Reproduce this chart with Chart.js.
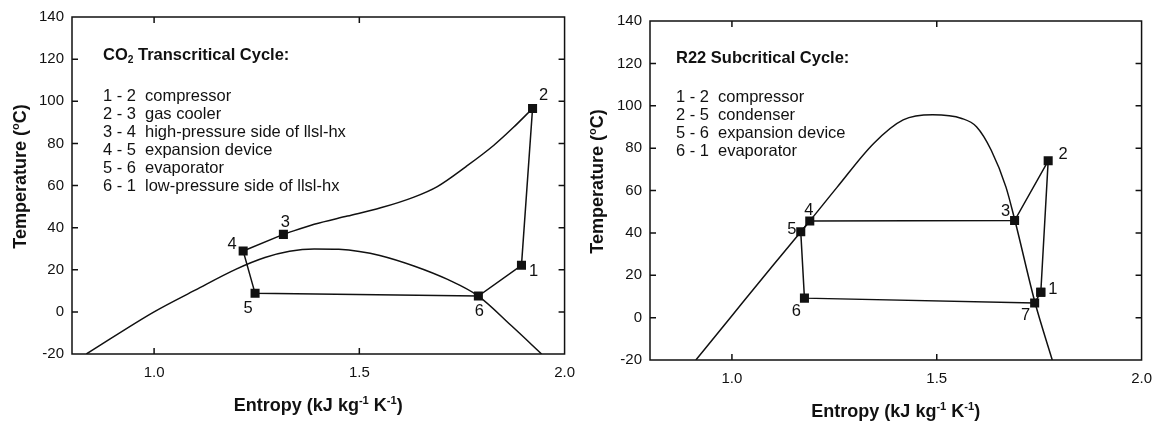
<!DOCTYPE html>
<html><head><meta charset="utf-8">
<script src="https://cdn.jsdelivr.net/npm/chart.js@4.4.0/dist/chart.umd.min.js"></script>
<style>
html,body{margin:0;padding:0;background:#fff;width:1154px;height:423px;overflow:hidden;}
#wrap{position:relative;width:1154px;height:423px;overflow:hidden;}
canvas{position:absolute;top:0;}
#c1{left:0;} #c2{left:577px;}
</style></head><body>
<div id="wrap"><canvas id="c1" width="585" height="423"></canvas><canvas id="c2" width="585" height="423"></canvas></div>
<script>
// ---- tick values ----
const tempTicks = [-20, 0, 20, 40, 60, 80, 100, 120, 140];
const entropyTicks = [1.0, 1.5, 2.0];

// ---- CO2 transcritical cycle ----
const co2DomeS = [0.835, 1.0, 1.1, 1.2, 1.27, 1.33, 1.39, 1.45, 1.5, 1.55, 1.633, 1.715, 1.79, 1.87, 1.944];
const co2DomeT = [-20, 0, 10.3, 20.3, 25.8, 28.8, 29.9, 29.7, 28.7, 26.8, 21.8, 15.4, 7.5, -6.5, -20];
const co2IsobarS = [1.315, 1.39, 1.471, 1.552, 1.633, 1.69, 1.76, 1.827, 1.875, 1.922];
const co2IsobarT = [36.8, 41.6, 45.5, 49.4, 54.5, 59.5, 69, 79, 87.5, 96.6];
const co2CycleLabels = ['3', '4', '5', '6', '1', '2'];
const co2CycleS = [1.315, 1.217, 1.246, 1.79, 1.895, 1.922];
const co2CycleT = [36.8, 28.9, 8.8, 7.5, 22.1, 96.6];
const co2LegendTitle = [{t: 'CO'}, {t: '2', sub: true}, {t: ' Transcritical Cycle:'}];
const co2LegendNums = ['1 - 2', '2 - 3', '3 - 4', '4 - 5', '5 - 6', '6 - 1'];
const co2LegendText = ['compressor', 'gas cooler', 'high-pressure side of llsl-hx', 'expansion device', 'evaporator', 'low-pressure side of llsl-hx'];

// ---- R22 subcritical cycle ----
const r22DomeS = [0.912, 1.0, 1.1, 1.19, 1.257, 1.346, 1.418, 1.49, 1.561, 1.597, 1.633, 1.669, 1.691, 1.74, 1.782];
const r22DomeT = [-20, 0.9, 24.6, 45.6, 61.6, 82.2, 93.3, 95.7, 94, 90.1, 79, 61.6, 45.7, 7, -20];
const r22CycleLabels = ['1', '2', '3', '4', '5', '6', '7', '1'];
const r22CycleS = [1.754, 1.772, 1.690, 1.190, 1.168, 1.177, 1.739, 1.754];
const r22CycleT = [12, 74, 45.8, 45.6, 40.5, 9.2, 6.9, 12];
const r22LegendTitle = [{t: 'R22 Subcritical Cycle:'}];
const r22LegendNums = ['1 - 2', '2 - 5', '5 - 6', '6 - 1'];
const r22LegendText = ['compressor', 'condenser', 'expansion device', 'evaporator'];

const FONT = "'Liberation Sans', Arial, Helvetica, sans-serif";
const INK = '#111';

function pts(xs, ys) { return xs.map((x, i) => ({x, y: ys[i]})); }

function drawRich(ctx, segs, x, y, size, weight, align) {
  let total = 0;
  const parts = segs.map(s => {
    const fs = (s.sup || s.sub) ? size * 0.62 : size;
    ctx.font = `${weight} ${fs}px ${FONT}`;
    const w = ctx.measureText(s.t).width;
    total += w;
    return {s, fs, w};
  });
  let cx = align === 'center' ? x - total / 2 : (align === 'right' ? x - total : x);
  ctx.textAlign = 'left';
  ctx.textBaseline = 'alphabetic';
  for (const p of parts) {
    ctx.font = `${weight} ${p.fs}px ${FONT}`;
    let dy = 0;
    if (p.s.sup) dy = -size * 0.4;
    if (p.s.sub) dy = size * 0.22;
    ctx.fillText(p.s.t, cx, y + dy);
    cx += p.w;
  }
}

const xTitle = [{t: 'Entropy (kJ kg'}, {t: '-1', sup: true}, {t: ' K'}, {t: '-1', sup: true}, {t: ')'}];
const yTitle = [{t: 'Temperature ('}, {t: 'o', sup: true}, {t: 'C)'}];

const framePlugin = {
  id: 'frame',
  afterDraw(chart, args, o) {
    const {ctx, chartArea: a} = chart;
    const xs = chart.scales.x, ys = chart.scales.y;
    ctx.save();
    ctx.strokeStyle = INK;
    ctx.fillStyle = INK;
    ctx.lineWidth = 1.5;
    ctx.strokeRect(a.left, a.top, a.right - a.left, a.bottom - a.top);
    const tl = 6;
    ctx.beginPath();
    ys.ticks.forEach(t => {
      const py = ys.getPixelForValue(t.value);
      if (py > a.top + 1 && py < a.bottom - 1) {
        ctx.moveTo(a.left, py); ctx.lineTo(a.left + tl, py);
        ctx.moveTo(a.right, py); ctx.lineTo(a.right - tl, py);
      }
    });
    xs.ticks.forEach(t => {
      const px = xs.getPixelForValue(t.value);
      if (px > a.left + 1 && px < a.right - 1) {
        ctx.moveTo(px, a.bottom); ctx.lineTo(px, a.bottom - tl);
        ctx.moveTo(px, a.top); ctx.lineTo(px, a.top + tl);
      }
    });
    ctx.stroke();

    // axis titles
    const ts = 18;
    drawRich(ctx, xTitle, (a.left + a.right) / 2, a.bottom + 51 + ts * 0.35, ts, 'bold', 'center');
    ctx.save();
    ctx.translate(20, (a.top + a.bottom) / 2 - 9);
    ctx.rotate(-Math.PI / 2);
    drawRich(ctx, yTitle, 0, ts * 0.35, ts, 'bold', 'center');
    ctx.restore();

    // legend block
    const ls = 16.5;
    const lx = a.left + o.legendX;
    drawRich(ctx, o.legendTitle, lx, a.top + o.legendTitleY + ls * 0.35, ls, 'bold', 'left');
    ctx.font = `normal ${ls}px ${FONT}`;
    ctx.textAlign = 'left';
    ctx.textBaseline = 'middle';
    o.legendNums.forEach((n, i) => {
      const yy = a.top + o.legendLineY + i * 18;
      ctx.fillText(n, lx, yy);
      ctx.fillText(o.legendText[i], lx + 42, yy);
    });

    // point labels
    const meta = chart.getDatasetMeta(o.cycleIndex);
    ctx.textAlign = 'center';
    ctx.textBaseline = 'middle';
    ctx.font = `normal ${ls}px ${FONT}`;
    const done = new Set();
    meta.data.forEach((el, i) => {
      const lab = o.labels[i];
      if (!lab || done.has(lab)) return;
      done.add(lab);
      const off = o.labelOffsets[lab] || [0, 0];
      ctx.fillText(lab, el.x + off[0], el.y + off[1]);
    });
    ctx.restore();
  }
};

function makeChart(id, datasets, geom, frameOpts) {
  return new Chart(document.getElementById(id), {
    type: 'scatter',
    data: {datasets},
    options: {
      responsive: false,
      animation: false,
      devicePixelRatio: 1,
      layout: {padding: {top: geom.top, right: geom.right, left: 0, bottom: 0}},
      plugins: {legend: {display: false}, tooltip: {enabled: false}, frame: frameOpts},
      scales: {
        x: {
          type: 'linear', min: 0.8, max: 2.0,
          afterBuildTicks: s => { s.ticks = entropyTicks.map(v => ({value: v})); },
          afterFit: s => { s.height = geom.xh; },
          grid: {display: false, drawTicks: false},
          border: {display: false},
          ticks: {padding: 10, color: INK, font: {family: FONT, size: 15}, maxRotation: 0,
                  callback: v => Number(v).toFixed(1)}
        },
        y: {
          type: 'linear', min: -20, max: 140,
          afterBuildTicks: s => { s.ticks = tempTicks.map(v => ({value: v})); },
          afterFit: s => { s.width = geom.yw; },
          grid: {display: false, drawTicks: false},
          border: {display: false},
          ticks: {padding: 8, color: INK, font: {family: FONT, size: 15}}
        }
      }
    },
    plugins: [framePlugin]
  });
}

const curveStyle = {showLine: true, pointRadius: 0, borderColor: INK, borderWidth: 1.5, cubicInterpolationMode: 'monotone', fill: false};
const cycleStyle = {showLine: true, pointRadius: 6.4, pointStyle: 'rect', pointBackgroundColor: INK, pointBorderColor: INK, pointBorderWidth: 0, borderColor: INK, borderWidth: 1.5, tension: 0, fill: false};

makeChart('c1', [
  Object.assign({data: pts(co2DomeS, co2DomeT)}, curveStyle),
  Object.assign({data: pts(co2IsobarS, co2IsobarT)}, curveStyle),
  Object.assign({data: pts(co2CycleS, co2CycleT)}, cycleStyle)
], {top: 16, right: 5, xh: 69, yw: 72}, {
  cycleIndex: 2, labels: co2CycleLabels,
  labelOffsets: {'1': [12, 6], '2': [11, -13], '3': [2, -12], '4': [-11, -7], '5': [-7, 15], '6': [1, 15]},
  legendTitle: co2LegendTitle, legendNums: co2LegendNums, legendText: co2LegendText,
  legendX: 31, legendTitleY: 37, legendLineY: 79
});

makeChart('c2', [
  Object.assign({data: pts(r22DomeS, r22DomeT)}, curveStyle),
  Object.assign({data: pts(r22CycleS, r22CycleT)}, cycleStyle)
], {top: 21, right: 5, xh: 63, yw: 73}, {
  cycleIndex: 1, labels: r22CycleLabels,
  labelOffsets: {'1': [12, -3], '2': [15, -6], '3': [-9, -9], '4': [-1, -11], '5': [-9, -2], '6': [-8, 13], '7': [-9, 12]},
  legendTitle: r22LegendTitle, legendNums: r22LegendNums, legendText: r22LegendText,
  legendX: 26, legendTitleY: 36, legendLineY: 76
});
</script>
</body></html>
